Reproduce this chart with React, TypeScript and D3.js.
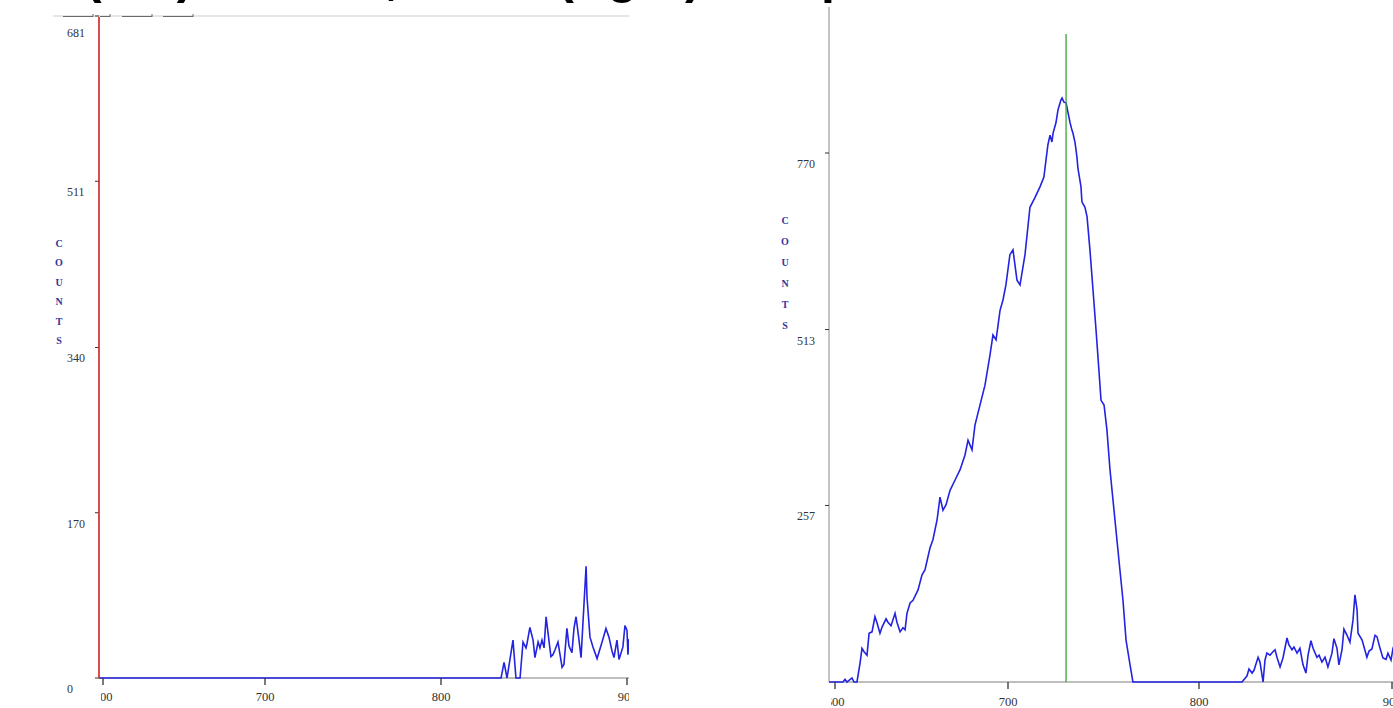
import React from 'react';
import * as d3 from 'd3';

type Pt = [number, number];

const W = 1393;
const H = 708;

const title = '(left) Control, blank (right) Sample in the 10 mm cell.';
const xTickValues = [600, 700, 800, 900];
const leftYTicks = [0, 170, 340, 511, 681];
const rightYTicks = [257, 513, 770];
const countsLetters = ['C', 'O', 'U', 'N', 'T', 'S'];

// left: empty run, only the background bump at the end
const leftCounts: Pt[] = [
    [597.5, 0], [832.3, 0], [833.9, 16], [835.5, 0], [838.7, 39], [840.3, 0], [842.5, 0],
    [844.1, 37], [845.7, 31], [846.2, 35], [847.8, 52], [849.5, 39], [850.5, 21], [852.2, 37],
    [853.2, 31], [854.3, 39], [855.4, 31], [856.5, 63], [857.5, 47], [859.1, 22], [860.2, 24],
    [861.3, 29], [862.9, 37], [865.1, 11], [866.1, 14], [867.7, 51], [868.8, 33], [870.4, 26],
    [871.5, 51], [872.6, 63], [874.2, 39], [875.3, 21], [876.3, 56], [878.0, 115], [878.5, 83],
    [880.1, 42], [881.7, 32], [883.9, 20], [886.6, 37], [888.7, 51], [890.3, 42], [891.9, 28],
    [893.0, 21], [894.6, 39], [895.7, 19], [897.8, 32], [898.9, 54], [900.0, 49], [900.5, 24],
    [901.1, 40]
];

// right: sample run with the main peak
const rightCounts: Pt[] = [
    [596.5, 0], [604.6, 0], [605.8, 4], [606.9, 0], [609.8, 6], [611.0, 0], [612.7, 0],
    [614.5, 28], [615.6, 49], [616.8, 44], [618.5, 39], [619.7, 71], [621.4, 73], [623.1, 95],
    [624.3, 86], [626.0, 71], [627.2, 80], [629.5, 92], [630.6, 87], [632.4, 82], [634.7, 100],
    [635.8, 87], [637.6, 73], [639.3, 79], [640.5, 76], [641.6, 100], [643.4, 115], [645.1, 119],
    [648.0, 134], [650.3, 156], [652.0, 163], [654.9, 195], [656.6, 207], [659.0, 236],
    [660.7, 269], [662.4, 250], [664.2, 258], [666.5, 279], [669.4, 294], [672.3, 309],
    [675.1, 330], [676.9, 352], [679.2, 338], [680.9, 374], [683.8, 403], [686.7, 432],
    [689.6, 476], [691.3, 505], [693.1, 498], [695.4, 541], [697.1, 556], [698.8, 578],
    [701.0, 622], [702.6, 629], [704.7, 585], [706.3, 578], [708.9, 622], [711.5, 691],
    [714.1, 705], [716.8, 721], [718.8, 735], [719.9, 760], [720.9, 782], [722.0, 796],
    [723.0, 786], [723.6, 799], [725.1, 814], [726.2, 833], [727.7, 847], [728.3, 850],
    [729.3, 844], [730.4, 843], [730.9, 836], [732.5, 814], [733.5, 803], [734.0, 799],
    [735.1, 785], [736.1, 764], [736.6, 748], [738.2, 721], [738.7, 699], [740.3, 691],
    [741.4, 677], [742.9, 629], [744.5, 571], [746.1, 512], [747.6, 454], [748.7, 410],
    [750.3, 403], [751.8, 367], [753.4, 309], [756.0, 236], [758.6, 163], [760.2, 119],
    [761.8, 61], [763.9, 25], [765.4, 0], [822.3, 0], [824.9, 9], [825.9, 19], [827.5, 13],
    [828.5, 17], [830.6, 36], [831.6, 29], [833.2, 0], [834.2, 32], [835.2, 42], [836.8, 39],
    [838.3, 44], [839.4, 47], [840.4, 36], [842.0, 22], [843.5, 35], [845.6, 64], [846.6, 54],
    [848.2, 47], [849.2, 51], [850.8, 42], [852.3, 49], [853.9, 25], [855.4, 13], [856.5, 39],
    [858.0, 60], [859.1, 49], [861.1, 36], [862.2, 39], [863.7, 29], [865.3, 36], [866.8, 22],
    [868.9, 42], [869.9, 63], [871.5, 49], [872.5, 25], [874.1, 47], [875.1, 77], [876.7, 68],
    [878.2, 58], [879.8, 90], [880.8, 127], [881.9, 105], [882.4, 71], [884.5, 61], [887.0, 36],
    [888.1, 45], [889.6, 48], [891.2, 68], [892.2, 66], [893.8, 49], [895.3, 35], [896.9, 33],
    [897.9, 42], [899.5, 32], [900.5, 49], [902.1, 61]
];

const leftCursor = 597.5;
const rightCursor = 730.4;

const serif = '"Liberation Serif", "DejaVu Serif", serif';

function Panel(p) {
    const x = d3.scaleLinear().domain(xTickValues).range(p.tickPx);
    const y = d3.scaleLinear().domain([0, p.yRef]).range([p.axisY, p.yRefPx]);
    const line = d3.line<Pt>().x(d => x(d[0])).y(d => y(d[1]));

    return (
        <g>
            <defs>
                <clipPath id={p.id}>
                    <rect x={p.x0} y={-50} width={p.x1 - p.x0} height={H + 100} />
                </clipPath>
                <clipPath id={p.id + 'lab'}>
                    <rect x={p.x0 + 2} y={-50} width={p.x1 - p.x0 - 2} height={H + 100} />
                </clipPath>
            </defs>

            {/* axes */}
            <line x1={p.x0} x2={p.x1} y1={p.axisY} y2={p.axisY} stroke="#a8a8a8" strokeWidth={1.5} />
            <line x1={p.x0} x2={p.x0} y1={p.yAxisTop} y2={p.axisY} stroke={p.yAxisColor} strokeWidth={1.5} />

            {p.yTicks.map(t => (
                <g key={t}>
                    <line x1={p.x0 - 4} x2={p.x0} y1={y(t)} y2={y(t)} stroke="#333" strokeWidth={1} />
                    <text x={p.x0 - 32} y={Math.max(y(t) + 15, 37)} fontFamily={serif} fontSize={12}
                        fill="#333">{t}</text>
                </g>
            ))}

            <g clipPath={`url(#${p.id})`}>
                <path d={line(p.data)} fill="none" stroke="#2323e0" strokeWidth={1.6} />
                {xTickValues.map(t => (
                    <line key={t} x1={x(t)} x2={x(t)} y1={p.axisY} y2={p.axisY + 7} stroke="#333" strokeWidth={1.3} />
                ))}
            </g>
            <g clipPath={`url(#${p.id + 'lab'})`}>
                {xTickValues.map(t => (
                    <text key={t} x={x(t)} y={p.axisY + p.labelDy} textAnchor="middle" fontFamily={serif}
                        fontSize={12.5} fill="#333">{t}</text>
                ))}
            </g>

            {/* cursor */}
            <line x1={x(p.cursor)} x2={x(p.cursor)} y1={p.cursorTop} y2={p.axisY}
                stroke={p.cursorColor} strokeWidth={1.3} />

            {countsLetters.map((c, i) => (
                <text key={i} x={p.countsX} y={p.countsY + i * p.countsStep} textAnchor="middle"
                    fontFamily={serif} fontWeight="bold" fontSize={10} fill="#34349c">{c}</text>
            ))}
        </g>
    );
}

export default function App() {
    const tabs = [[63, 93], [100, 110], [122, 152], [163, 193]];
    return (
        <svg width={W} height={H} style={{position: 'absolute', left: 0, top: 0, background: '#fff'}}>
            <rect width={W} height={H} fill="#fff" />

            {/* left frame top with the little tabs */}
            <line x1={53} x2={629} y1={16} y2={16} stroke="#e6e6e6" strokeWidth={2} />
            {tabs.map(([a, b], i) => (
                <g key={i}>
                    <line x1={a} x2={b} y1={16.5} y2={16.5} stroke="#6a6a6a" strokeWidth={1} />
                    <line x1={b} x2={b} y1={14} y2={17} stroke="#6a6a6a" strokeWidth={1} />
                </g>
            ))}

            <Panel id="clipL" tickPx={[103, 265, 441, 627]} x0={99} x1={629} axisY={678}
                yRef={681} yRefPx={16} yTicks={leftYTicks} data={leftCounts}
                cursor={leftCursor} cursorColor="#d43c3c" cursorTop={17}
                yAxisColor="#d43c3c" yAxisTop={17} labelDy={23}
                countsX={59} countsY={247} countsStep={19.4} />

            <Panel id="clipR" tickPx={[835, 1008, 1199, 1392]} x0={829} x1={1400} axisY={682}
                yRef={770} yRefPx={153} yTicks={rightYTicks} data={rightCounts}
                cursor={rightCursor} cursorColor="#3aa33a" cursorTop={34}
                yAxisColor="#b0b0b0" yAxisTop={7} labelDy={24}
                countsX={785} countsY={224} countsStep={21} />

            {/* title, mostly cut off by the top edge */}
            <text x={85} y={-7.5} fontFamily='"Liberation Sans", Arial, sans-serif' fontWeight="bold"
                fontSize={50} fill="#000">{title}</text>
        </svg>
    );
}
